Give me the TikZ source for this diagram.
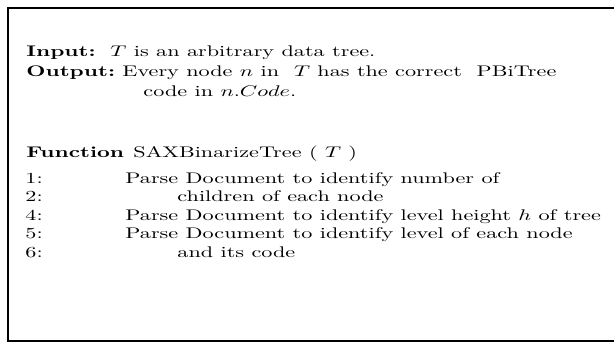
\documentclass[tikz,border=0pt]{standalone}
\begin{document}
\begin{tikzpicture}[x=1pt,y=-1pt,
  txt/.style={anchor=base west, inner sep=0pt, xscale=2.22, yscale=1.54,
              font=\fontsize{10}{12}\selectfont},
  frame/.style={line width=2pt}]
\useasboundingbox (0,0) rectangle (614,343);
% open frame, running off the right edge
\draw[frame] (614,8) -- (8,8) -- (8,341) -- (614,341);

\node[txt] (inkey)  at (26,56)  {\textbf{Input:}};
\node[txt] (intxt)  at (110,56) {$T$ is an arbitrary data tree.};
\node[txt] (outkey) at (26,76)  {\textbf{Output:}};
\node[txt] (outtxt) at (122,76) {Every node $n$ in~ $T$ has the correct~ PBiTree};
\node[txt] (outtx2) at (143,96) {code in $n.Code$.};

\node[txt] (fnkey)  at (26,157)  {\textbf{Function}};
\node[txt] (fnname) at (133,157) {SAXBinarizeTree ( $T$ )};

\node[txt] (n1) at (25,183) {1:};
\node[txt] (s1) at (125,183) {Parse Document to identify number of};
\node[txt] (n2) at (25,201.5) {2:};
\node[txt] (s2) at (177,201.5) {children of each node};
\node[txt] (n4) at (25,220) {4:};
\node[txt] (s4) at (125,220) {Parse Document to identify level height $h$ of tree};
\node[txt] (n5) at (25,238.5) {5:};
\node[txt] (s5) at (125,238.5) {Parse Document to identify level of each node};
\node[txt] (n6) at (25,257) {6:};
\node[txt] (s6) at (177,257) {and its code};
\end{tikzpicture}
\end{document}
